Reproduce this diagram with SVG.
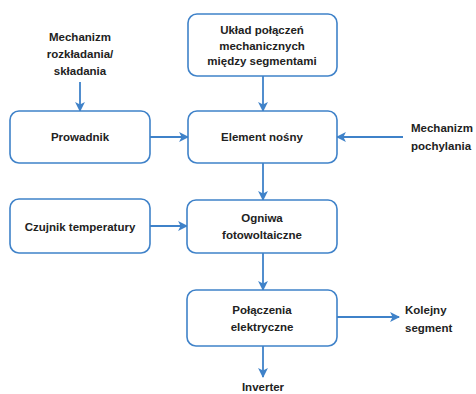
<svg xmlns="http://www.w3.org/2000/svg" width="476" height="394" viewBox="0 0 476 394">
<defs>
<style>
.box{fill:#fff;stroke:#3f82c9;stroke-width:1.6}
.t{font-family:"Liberation Sans",Arial,sans-serif;font-weight:bold;font-size:11.5px;fill:#222;text-anchor:middle}
.ts{font-family:"Liberation Sans",Arial,sans-serif;font-weight:bold;font-size:11.5px;fill:#222;text-anchor:start}
.c{stroke:#3f82c9;stroke-width:1.8;fill:none;marker-end:url(#ah)}
</style>
<marker id="ah" viewBox="0 0 10 10" refX="9" refY="5" markerWidth="5.5" markerHeight="5.5" orient="auto" markerUnits="strokeWidth">
<path d="M0,0 L10,5 L0,10 L2.5,5 z" fill="#3f82c9"/>
</marker>
</defs>
<rect width="476" height="394" fill="#fff"/>
<g id="connectors">
<line class="c" x1="80" y1="82" x2="80" y2="111"/>
<line class="c" x1="150" y1="137" x2="188" y2="137"/>
<line class="c" x1="263" y1="76" x2="263" y2="111"/>
<line class="c" x1="403" y1="137" x2="337" y2="137"/>
<line class="c" x1="263" y1="163" x2="263" y2="200"/>
<line class="c" x1="150" y1="226" x2="187" y2="226"/>
<line class="c" x1="263" y1="253" x2="263" y2="290"/>
<line class="c" x1="337" y1="317" x2="399" y2="317"/>
<line class="c" x1="263" y1="346" x2="263" y2="377"/>
</g>
<g id="mech-rozkladania">
<text class="t" x="80" y="41">Mechanizm</text>
<text class="t" x="80" y="58">rozkładania/</text>
<text class="t" x="80" y="75">składania</text>
</g>
<g id="uklad">
<rect class="box" x="188" y="14" width="149" height="62" rx="9"/>
<text class="t" x="262" y="34">Układ połączeń</text>
<text class="t" x="262" y="49.5">mechanicznych</text>
<text class="t" x="262" y="65">między segmentami</text>
</g>
<g id="prowadnik">
<rect class="box" x="10" y="111" width="140" height="52" rx="9"/>
<text class="t" x="80" y="141">Prowadnik</text>
</g>
<g id="element">
<rect class="box" x="188" y="111" width="149" height="52" rx="9"/>
<text class="t" x="262" y="141">Element nośny</text>
</g>
<g id="mech-pochylania">
<text class="ts" x="411" y="132">Mechanizm</text>
<text class="ts" x="411" y="150">pochylania</text>
</g>
<g id="czujnik">
<rect class="box" x="10" y="199" width="140" height="54" rx="9"/>
<text class="t" x="80" y="231">Czujnik temperatury</text>
</g>
<g id="ogniwa">
<rect class="box" x="187" y="200" width="150" height="53" rx="9"/>
<text class="t" x="262" y="222">Ogniwa</text>
<text class="t" x="262" y="239">fotowoltaiczne</text>
</g>
<g id="polaczenia">
<rect class="box" x="187" y="290" width="150" height="56" rx="9"/>
<text class="t" x="262" y="314">Połączenia</text>
<text class="t" x="262" y="331">elektryczne</text>
</g>
<g id="kolejny">
<text class="ts" x="405" y="314">Kolejny</text>
<text class="ts" x="405" y="332">segment</text>
</g>
<g id="inverter">
<text class="t" x="263" y="391">Inverter</text>
</g>
</svg>
